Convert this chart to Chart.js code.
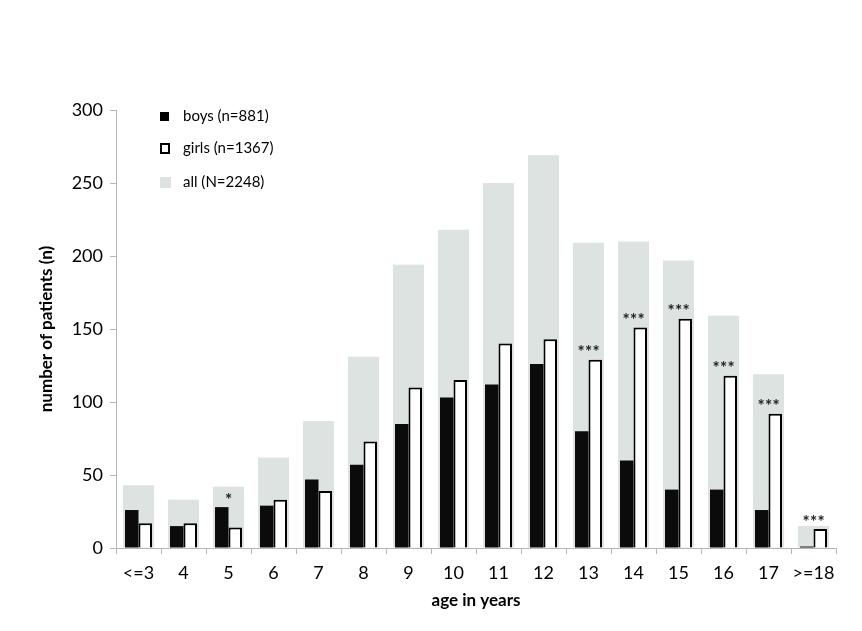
<!DOCTYPE html>
<html>
<head>
<meta charset="utf-8">
<script src="https://cdn.jsdelivr.net/npm/chart.js@4"></script>
<style>
  html, body { margin: 0; padding: 0; background: #fff; }
  #wrap { width: 862px; height: 631px; }
</style>
</head>
<body>
<div id="wrap"><canvas id="ageChart"></canvas></div>
<script>
// ages and counts
var ageLabels = ['<=3', '4', '5', '6', '7', '8', '9', '10', '11', '12', '13', '14', '15', '16', '17', '>=18']
var boysCounts = [26, 15, 28, 29, 47, 57, 85, 103, 112, 126, 80, 60, 40, 40, 26, 1]
var girlsCounts = [17, 17, 14, 33, 39, 73, 110, 115, 140, 143, 129, 151, 157, 118, 92, 13]
var allCounts = [43, 33, 42, 62, 87, 131, 194, 218, 250, 269, 209, 210, 197, 159, 119, 15]
var significance = ['', '', '*', '', '', '', '', '', '', '', '***', '***', '***', '***', '***', '***']
var seriesLabels = ['boys (n=881)', 'girls (n=1367)', 'all (N=2248)']

const fontFamily = 'Lato, "Open Sans", sans-serif'
const grayFill = '#dce3e1'

// little legend column in the upper left of the plot
const legendBox = {
    id: 'legendBox',
    afterDraw(chart) {
        const ctx = chart.ctx
        const rows = [
            { y: 116, draw: function () { ctx.fillStyle = '#000'; ctx.fillRect(160, 112, 9, 9) } },
            { y: 148, draw: function () { ctx.fillStyle = '#fff'; ctx.fillRect(161, 144, 8, 9); ctx.strokeStyle = '#000'; ctx.lineWidth = 2; ctx.strokeRect(161, 144, 8, 9) } },
            { y: 182, draw: function () { ctx.fillStyle = grayFill; ctx.fillRect(160, 177, 11, 11) } }
        ]
        ctx.save()
        ctx.font = '15px ' + fontFamily
        ctx.textBaseline = 'middle'
        rows.forEach(function (row, i) {
            row.draw()
            ctx.fillStyle = '#000'
            ctx.fillText(seriesLabels[i], 183, row.y)
        })
        ctx.restore()
    }
}

// asterisks above each age group
const starsPlugin = {
    id: 'starsPlugin',
    afterDatasetsDraw(chart) {
        const ctx = chart.ctx
        const xs = chart.scales.x
        const ys = chart.scales.y
        ctx.save()
        ctx.font = 'bold 17px ' + fontFamily
        ctx.fillStyle = '#222'
        ctx.textAlign = 'center'
        ctx.textBaseline = 'middle'
        significance.forEach(function (s, i) {
            if (!s) return
            const top = Math.max(boysCounts[i], girlsCounts[i])
            const cxp = xs.getPixelForValue(i)
            const cyp = ys.getPixelForValue(top) - 7
            const n = s.length
            for (let k = 0; k < n; k++) {
                ctx.fillText('*', cxp + (k - (n - 1) / 2) * 7.5, cyp)
            }
        })
        ctx.restore()
    }
}

const cx = document.getElementById('ageChart').getContext('2d')

const ageChart = new Chart(cx, {
    type: 'bar',
    data: {
        labels: ageLabels,
        datasets: [{
            label: seriesLabels[0],
            data: boysCounts,
            backgroundColor: '#0b0b0b',
            borderWidth: 0,
            categoryPercentage: 0.6,
            barPercentage: 1
        }, {
            label: seriesLabels[1],
            data: girlsCounts,
            backgroundColor: '#ffffff',
            borderColor: '#000000',
            borderWidth: 2,
            categoryPercentage: 0.6,
            barPercentage: 1
        }, {
            label: seriesLabels[2],
            data: allCounts,
            backgroundColor: grayFill,
            borderWidth: 0,
            grouped: false,
            categoryPercentage: 0.69,
            barPercentage: 1
        }]
    },
    options: {
        responsive: true,
        maintainAspectRatio: false,
        animation: false,
        layout: {
            padding: { top: 110, right: 26, bottom: 0, left: 0 }
        },
        plugins: {
            legend: { display: false },
            tooltip: { enabled: false }
        },
        scales: {
            x: {
                afterFit: function (s) { s.height = 83 },
                border: { color: '#b5b5b5', width: 1 },
                grid: {
                    display: true,
                    offset: true,
                    drawOnChartArea: false,
                    drawTicks: true,
                    tickLength: 6,
                    color: '#b5b5b5'
                },
                ticks: {
                    color: '#000',
                    padding: 8,
                    maxRotation: 0,
                    minRotation: 0,
                    autoSkip: false,
                    font: { family: fontFamily, size: 18 }
                },
                title: {
                    display: true,
                    text: 'age in years',
                    color: '#000',
                    font: { family: fontFamily, size: 17, weight: 'bold' },
                    padding: { top: 0, bottom: 20 }
                }
            },
            y: {
                min: 0,
                max: 300,
                afterFit: function (s) { s.width = 116 },
                border: { color: '#b5b5b5', width: 1 },
                grid: {
                    display: true,
                    drawOnChartArea: false,
                    drawTicks: true,
                    tickLength: 6,
                    color: '#b5b5b5'
                },
                ticks: {
                    stepSize: 50,
                    color: '#000',
                    padding: 7,
                    font: { family: fontFamily, size: 18 }
                },
                title: {
                    display: true,
                    text: 'number of patients (n)',
                    color: '#000',
                    font: { family: fontFamily, size: 17, weight: 'bold' },
                    padding: { top: 36, bottom: 0 }
                }
            }
        }
    },
    plugins: [legendBox, starsPlugin]
})
</script>
</body>
</html>
